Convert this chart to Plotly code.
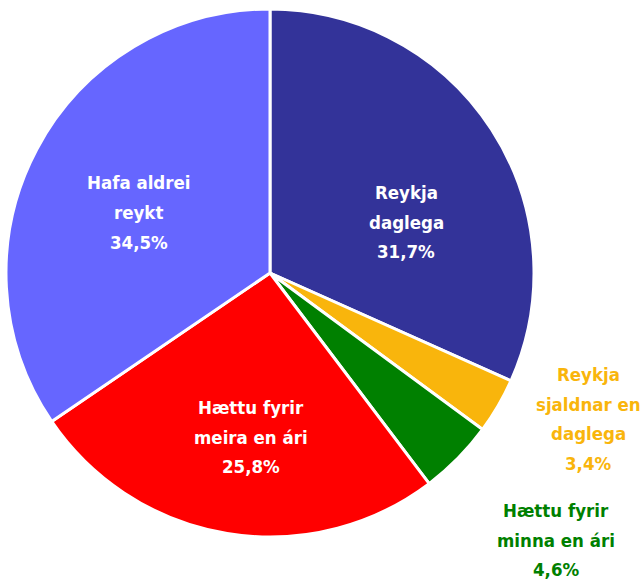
import plotly.graph_objects as go

labels = ["Reykja daglega", "Reykja sjaldnar en daglega", "Hættu fyrir minna en ári",
          "Hættu fyrir meira en ári", "Hafa aldrei reykt"]
values = [31.7, 3.4, 4.6, 25.8, 34.5]
label_lines = [["Reykja", "daglega", "31,7%"],
               ["Reykja", "sjaldnar en", "daglega", "3,4%"],
               ["Hættu fyrir", "minna en ári", "4,6%"],
               ["Hættu fyrir", "meira en ári", "25,8%"],
               ["Hafa aldrei", "reykt", "34,5%"]]
colors = ["#333399", "#F9B50C", "#008000", "#FF0000", "#6666FF"]
text_colors = ["white", "#F9B50C", "#008000", "white", "white"]

W, H = 642, 582
# label block centres in pixels
label_px = [(406, 222), (588, 419), (556, 540), (250.5, 437), (138.5, 212.5)]
LINE = 29.8

FONT = "DejaVu Sans Condensed, Liberation Sans Narrow, Arial Narrow, sans-serif"

fig = go.Figure(go.Pie(
    labels=labels, values=values, sort=False, direction="clockwise", rotation=0,
    marker=dict(colors=colors, line=dict(color="white", width=3)),
    textinfo="none", hoverinfo="label+percent",
    domain=dict(x=[6 / W, 534 / W], y=[1 - 537 / H, 1 - 9 / H]),
    showlegend=False,
))

for lines, c, (cx, cy) in zip(label_lines, text_colors, label_px):
    n = len(lines)
    for i, t in enumerate(lines):
        y = cy + (i - (n - 1) / 2) * LINE
        fig.add_annotation(text="<b>" + t + "</b>", x=cx / W, y=1 - y / H,
                           xref="paper", yref="paper", showarrow=False,
                           xanchor="center", yanchor="middle",
                           font=dict(family=FONT, size=18.5, color=c))

fig.update_layout(width=W, height=H, margin=dict(l=0, r=0, t=0, b=0),
                  paper_bgcolor="white", plot_bgcolor="white")
fig.write_html("out.html", config={"displayModeBar": False},
               post_script="document.body.style.margin='0';")
